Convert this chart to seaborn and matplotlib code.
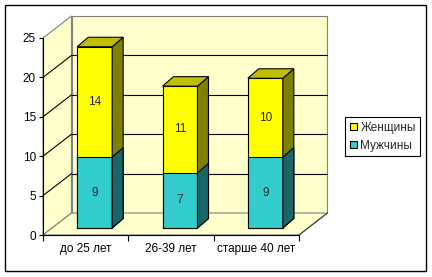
import numpy as np
import pandas as pd
import matplotlib
matplotlib.use("Agg")
import matplotlib.pyplot as plt
import seaborn as sns
from matplotlib.patches import Polygon, Rectangle, Patch
from matplotlib.transforms import ScaledTranslation, IdentityTransform
from matplotlib.lines import Line2D

# ---- data ----
categories = ["до 25 лет", "26-39 лет", "старше 40 лет"]
women = [14, 11, 10]
men = [9, 7, 9]
series_names = ["Женщины", "Мужчины"]
y_ticks = [0, 5, 10, 15, 20, 25]

sns.set_theme(style="white")
plt.rcParams["font.family"] = ["Liberation Sans", "DejaVu Sans"]

DPI = 100
W, H = 432, 277
fig = plt.figure(figsize=(W / DPI, H / DPI), dpi=DPI)
fig.patch.set_facecolor("white")


def fx(px):
    return px / W


def fy(py):
    return 1 - py / H


ax = fig.add_axes([fx(43), fy(235), fx(299) - fx(43), fy(38) - fy(235)])
ax.patch.set_visible(False)

YEL, YEL_SIDE, YEL_TOP = "#FFFF00", "#808000", "#BFBF00"
TEAL, TEAL_SIDE = "#33CCCC", "#1A6666"
WALL, WALL_EDGE = "#FFFFCC", "#808080"
FS = 8.5

df = pd.DataFrame({"cat": categories,
                   "total": np.add(women, men),
                   "men": men})

sns.barplot(data=df, x="cat", y="total", color=YEL, saturation=1, width=0.41,
            edgecolor="black", linewidth=0.8, errorbar=None, ax=ax)
sns.barplot(data=df, x="cat", y="men", color=TEAL, saturation=1, width=0.41,
            edgecolor="black", linewidth=0.8, errorbar=None, ax=ax)
bars = list(ax.patches)

ax.set_xlim(-0.5, len(categories) - 0.5)
ax.set_ylim(y_ticks[0], y_ticks[-1])
ax.set_xlabel("")
ax.set_ylabel("")

BAR_OFF = (9, 7)
DEPTH = (11, 9.5)
BACK = (28.5, 22)
ident = IdentityTransform()


def D(x, y, off=(0, 0)):
    p = ax.transData.transform((x, y))
    return (p[0] + off[0], p[1] + off[1])


def add_poly(pts, fc, ec, z, lw=0.8):
    poly = Polygon(pts, closed=True, facecolor=fc, edgecolor=ec, linewidth=lw,
                   transform=ident, zorder=z, clip_on=False)
    ax.add_artist(poly)


def add_line(p0, p1, color, z, lw=0.8):
    ln = Line2D([p0[0], p1[0]], [p0[1], p1[1]], color=color, linewidth=lw,
                transform=ident, zorder=z, clip_on=False)
    ax.add_artist(ln)


x0, x1 = ax.get_xlim()
y0, y1 = ax.get_ylim()

# walls
add_poly([D(x0, y0, BACK), D(x1, y0, BACK), D(x1, y1, BACK), D(x0, y1, BACK)], WALL, WALL_EDGE, 0.5)
add_poly([D(x0, y0), D(x0, y1), D(x0, y1, BACK), D(x0, y0, BACK)], WALL, WALL_EDGE, 0.5)
add_poly([D(x0, y0), D(x1, y0), D(x1, y0, BACK), D(x0, y0, BACK)], WALL, WALL_EDGE, 0.5)
add_line(D(x1, y0), D(x1, y0, BACK), "#404040", 0.7)

# gridlines
for v in y_ticks[1:-1]:
    add_line(D(x0, v, BACK), D(x1, v, BACK), "black", 1)
    add_line(D(x0, v), D(x0, v, BACK), "black", 1)

# bars: shift front faces, add sides and tops
bar_tr = ax.transData + ScaledTranslation(BAR_OFF[0] / DPI, BAR_OFF[1] / DPI, fig.dpi_scale_trans)
n = len(categories)
for i, p in enumerate(bars):
    is_total = i < n
    p.set_transform(bar_tr)
    p.set_clip_on(False)
    p.set_zorder(5 if is_total else 6)
    bx, bw, by, bh = p.get_x(), p.get_width(), p.get_y(), p.get_height()
    off2 = (BAR_OFF[0] + DEPTH[0], BAR_OFF[1] + DEPTH[1])
    side = [D(bx + bw, by, BAR_OFF), D(bx + bw, by + bh, BAR_OFF),
            D(bx + bw, by + bh, off2), D(bx + bw, by, off2)]
    add_poly(side, YEL_SIDE if is_total else TEAL_SIDE, "black", 5 if is_total else 6)
    if is_total:
        top = [D(bx, by + bh, BAR_OFF), D(bx + bw, by + bh, BAR_OFF),
               D(bx + bw, by + bh, off2), D(bx, by + bh, off2)]
        add_poly(top, YEL_TOP, "black", 5)

# value labels
for i in range(n):
    ax.text(i, men[i] / 2, str(men[i]), transform=bar_tr, ha="center", va="center",
            fontsize=FS, zorder=10)
    ax.text(i, men[i] + women[i] / 2, str(women[i]), transform=bar_tr, ha="center",
            va="center", fontsize=FS, zorder=10)

# axes styling
for s in ["top", "right"]:
    ax.spines[s].set_visible(False)
for s in ["left", "bottom"]:
    ax.spines[s].set_color("black")
    ax.spines[s].set_linewidth(0.8)
    ax.spines[s].set_zorder(3)

ax.set_yticks(y_ticks)
ax.set_yticklabels([str(v) for v in y_ticks])
ax.set_xticks(range(n))
ax.set_xticklabels(categories)
ax.set_xticks(np.arange(n + 1) - 0.5, minor=True)
ax.tick_params(axis="y", left=True, direction="out", length=3, width=0.8,
               color="black", labelsize=FS, pad=2, labelcolor="black")
ax.tick_params(axis="x", which="major", bottom=True, length=0, pad=6,
               labelsize=FS, labelcolor="black")
ax.tick_params(axis="x", which="minor", bottom=True, direction="out", length=4,
               width=0.8, color="black")
ax.grid(False)

# legend
handles = [Patch(facecolor=YEL, edgecolor="black", linewidth=0.8, label=series_names[0]),
           Patch(facecolor=TEAL, edgecolor="black", linewidth=0.8, label=series_names[1])]
leg = fig.legend(handles=handles, loc="upper left", bbox_to_anchor=(fx(345), fy(117)),
                 frameon=True, fancybox=False, edgecolor="black", framealpha=1,
                 fontsize=FS, handlelength=0.6, handleheight=0.6, handletextpad=0.3,
                 borderpad=0.4, labelspacing=0.5, borderaxespad=0)
leg.get_frame().set_linewidth(0.8)

# outer border
fig.add_artist(Rectangle((fx(5), fy(271)), fx(426) - fx(5), fy(5) - fy(271),
                         transform=fig.transFigure, fill=False, edgecolor="black",
                         linewidth=1))

fig.savefig("out.png", dpi=DPI)
